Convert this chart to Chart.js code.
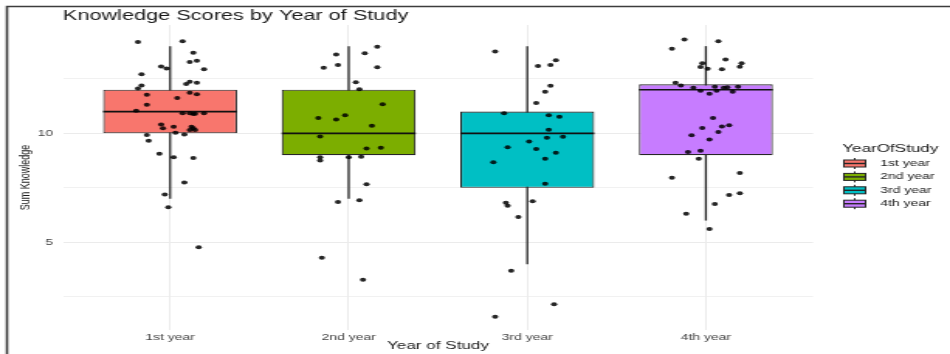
<!DOCTYPE html>
<html>
<head>
<meta charset="utf-8">
<script src="https://cdn.jsdelivr.net/npm/chart.js@4/dist/chart.umd.min.js"></script>
<style>
  html, body { margin: 0; padding: 0; background: #ffffff; overflow: hidden; }
  #wrap { width: 950px; height: 354px; overflow: hidden; }
  /* the figure is drawn on a narrow canvas and widened to the page width */
  #c { display: block; transform: scaleX(1.5498); transform-origin: 0 0; }
</style>
</head>
<body>
<div id="wrap"><canvas id="c" width="613" height="354"></canvas></div>
<script>
// ---- data ----
const categories = ['1st year', '2nd year', '3rd year', '4th year'];
const q1 = [10, 9, 7.5, 9];
const medians = [11, 10, 10, 12];
const q3 = [12, 12, 11, 12.25];
const whiskerLow = [7, 7, 4, 6];
const whiskerHigh = [14, 14, 14, 14];
const yTicks = [2.5, 5, 7.5, 10, 12.5];

// jittered observations: [horizontal jitter, score]
const jitterFirst = [
  [-0.18,14.19],[0.07,14.23],[0.13,13.70],[0.11,13.27],[0.15,13.33],[-0.05,13.07],[-0.02,12.98],
  [0.19,12.94],[-0.16,12.71],[-0.16,12.20],[-0.18,12.06],[0.09,12.26],[0.11,12.37],[0.15,12.32],
  [-0.13,11.77],[0.11,11.86],[0.15,11.79],[0.04,11.62],[-0.13,11.31],[-0.19,11.04],[0.07,10.92],
  [0.11,10.92],[0.13,10.89],[0.14,10.90],[0.19,10.92],[-0.05,10.41],[-0.04,10.23],[0.02,10.30],
  [0.12,10.30],[0.13,10.23],[0.11,10.15],[0.14,10.15],[0.03,10.03],[0.08,9.95],[-0.13,9.92],
  [-0.12,9.66],[-0.06,9.06],[0.02,8.90],[0.13,8.87],[0.08,7.75],[-0.03,7.20],[-0.01,6.61],[0.16,4.77]
];
const jitterSecond = [
  [0.16,13.97],[0.09,13.67],[-0.07,13.62],[-0.14,13.01],[-0.06,13.13],[0.16,13.03],[0.04,12.34],
  [0.06,12.02],[0.19,11.33],[-0.17,10.70],[-0.07,10.64],[-0.02,10.83],[0.13,10.35],[-0.16,9.86],
  [0.10,9.31],[0.18,9.34],[-0.16,8.90],[-0.16,8.76],[0.00,8.90],[0.07,8.93],[0.10,7.66],
  [-0.06,6.85],[0.06,6.93],[-0.15,4.29],[0.08,3.28]
];
const jitterThird = [
  [-0.18,13.76],[0.06,13.09],[0.13,13.13],[0.16,13.35],[0.13,12.18],[0.10,11.91],[0.05,11.39],
  [-0.13,10.92],[0.12,10.83],[0.18,10.76],[0.12,10.17],[0.11,9.80],[0.20,9.84],[0.01,9.63],
  [-0.11,9.36],[0.05,9.28],[0.16,9.11],[0.10,8.83],[-0.19,8.67],[0.10,7.69],[-0.12,6.82],
  [-0.11,6.68],[0.03,6.88],[-0.05,6.16],[-0.09,3.70],[0.15,2.16],[-0.18,1.59]
];
const jitterFourth = [
  [-0.12,14.31],[0.07,14.23],[-0.19,13.88],[0.11,13.39],[0.20,13.22],[0.19,13.06],[-0.02,13.21],
  [-0.03,13.04],[0.01,12.96],[0.09,12.94],[-0.17,12.32],[-0.14,12.20],[-0.07,12.09],[-0.03,11.95],
  [0.02,11.82],[0.05,12.14],[0.06,11.95],[0.10,12.09],[0.12,12.11],[0.15,11.91],[0.18,12.14],
  [0.04,10.70],[0.09,10.32],[0.13,10.37],[-0.02,10.24],[-0.08,9.91],[0.07,10.06],[0.02,9.72],
  [-0.10,9.14],[-0.03,9.20],[-0.04,8.83],[0.19,8.18],[-0.19,7.96],[0.13,7.17],[0.19,7.25],
  [0.05,6.76],[-0.11,6.31],[0.02,5.61]
];

// ---- styling ----
const FONT = '"Liberation Sans", Arial, Helvetica, sans-serif';
const boxColors = ['#F8766D', '#7CAE00', '#00BFC4', '#C77CFF'];
const INK = '#1a1a1a';
const LINE = '#262626';

Chart.defaults.font.family = FONT;

const groups = [jitterFirst, jitterSecond, jitterThird, jitterFourth];
const pointData = [];
groups.forEach((g, i) => g.forEach(([dx, v]) => pointData.push({ x: i + 1 + dx, y: v })));

// whiskers under the boxes, medians on top of each box, then title, legend and frame
const boxParts = {
  id: 'boxParts',
  beforeDatasetsDraw(chart) {
    const { ctx, scales: { x, y } } = chart;
    ctx.save();
    ctx.strokeStyle = LINE;
    ctx.lineWidth = 1.3;
    categories.forEach((c, i) => {
      const px = x.getPixelForValue(i + 1);
      ctx.beginPath();
      ctx.moveTo(px, y.getPixelForValue(whiskerLow[i]));
      ctx.lineTo(px, y.getPixelForValue(whiskerHigh[i]));
      ctx.stroke();
    });
    ctx.restore();
  },
  afterDatasetDraw(chart, args) {
    const ds = chart.data.datasets[args.index];
    if (ds.type !== 'bar') return;
    const i = ds.boxIndex;
    const bar = args.meta.data[0];
    if (!bar) return;
    const { ctx, scales: { y } } = chart;
    const half = bar.width / 2;
    const py = y.getPixelForValue(medians[i]);
    ctx.save();
    ctx.strokeStyle = '#111111';
    ctx.lineWidth = 1.7;
    ctx.beginPath();
    ctx.moveTo(bar.x - half, py);
    ctx.lineTo(bar.x + half, py);
    ctx.stroke();
    ctx.restore();
  },
  afterDraw(chart) {
    const { ctx } = chart;
    ctx.save();
    // title
    ctx.fillStyle = INK;
    ctx.font = '14px ' + FONT;
    ctx.textAlign = 'left';
    ctx.textBaseline = 'alphabetic';
    ctx.fillText('Knowledge Scores by Year of Study', chart.chartArea.left, 19.5);

    // legend
    const lx = 543.5;
    ctx.font = '11px ' + FONT;
    ctx.textBaseline = 'middle';
    ctx.fillText('YearOfStudy', lx, 149);
    categories.forEach((c, i) => {
      const cy = 163.5 + i * 13.4;
      const kx = 544.5, kw = 14, kh = 7;
      ctx.strokeStyle = LINE;
      ctx.lineWidth = 1;
      ctx.beginPath();
      ctx.moveTo(kx + kw / 2, cy - 5.5);
      ctx.lineTo(kx + kw / 2, cy + 5.5);
      ctx.stroke();
      ctx.fillStyle = boxColors[i];
      ctx.fillRect(kx, cy - kh / 2, kw, kh);
      ctx.strokeRect(kx, cy - kh / 2, kw, kh);
      ctx.lineWidth = 1.4;
      ctx.beginPath();
      ctx.moveTo(kx, cy);
      ctx.lineTo(kx + kw, cy);
      ctx.stroke();
      ctx.fillStyle = INK;
      ctx.font = '9px ' + FONT;
      ctx.fillText(c, 568, cy);
    });

    // frame lines along the top and left edge
    ctx.strokeStyle = '#3c3c3c';
    ctx.lineWidth = 1.6;
    ctx.beginPath();
    ctx.moveTo(4.5, 354);
    ctx.lineTo(4.5, 6.5);
    ctx.lineTo(613, 6.5);
    ctx.stroke();
    ctx.restore();
  }
};

const boxDatasets = categories.map((c, i) => ({
  type: 'bar',
  label: c,
  boxIndex: i,
  data: [{ x: i + 1, y: [q1[i], q3[i]] }],
  backgroundColor: boxColors[i],
  borderColor: LINE,
  borderWidth: 1.1,
  borderSkipped: false,
  grouped: false,
  barPercentage: 0.75,
  categoryPercentage: 1,
  order: 1
}));

new Chart(document.getElementById('c'), {
  type: 'scatter',
  data: {
    datasets: [
      {
        type: 'scatter',
        label: 'observations',
        data: pointData,
        pointRadius: 2,
        pointHoverRadius: 2,
        pointBackgroundColor: 'rgba(0,0,0,0.85)',
        pointBorderWidth: 0,
        order: 0
      },
      ...boxDatasets
    ]
  },
  options: {
    responsive: false,
    animation: false,
    devicePixelRatio: 1,
    layout: { padding: { left: 0, right: 88.4, top: 25, bottom: 0 } },
    plugins: {
      legend: { display: false },
      tooltip: { enabled: false },
      title: { display: false }
    },
    scales: {
      x: {
        type: 'linear',
        min: 0.4,
        max: 4.6,
        offset: false,
        afterBuildTicks: s => { s.ticks = categories.map((c, i) => ({ value: i + 1 })); },
        afterFit: s => { s.height = 24; },
        ticks: {
          callback: v => categories[Math.round(v) - 1] || '',
          font: { size: 9 },
          color: '#444444',
          padding: 2,
          maxRotation: 0,
          autoSkip: false
        },
        grid: { color: '#ebebeb', lineWidth: 1, drawTicks: false, offset: false },
        border: { display: false },
        title: {
          display: true,
          text: 'Year of Study',
          font: { size: 11 },
          color: INK,
          padding: { top: 0, bottom: 1.4 }
        }
      },
      y: {
        type: 'linear',
        min: 0.98,
        max: 14.97,
        afterBuildTicks: s => { s.ticks = yTicks.map(v => ({ value: v })); },
        afterFit: s => { s.width = 40.6; },
        ticks: {
          callback: v => (v % 5 === 0 ? String(v) : ''),
          font: { size: 9 },
          color: '#444444',
          padding: 6.4
        },
        grid: {
          color: '#ebebeb',
          lineWidth: c => (c.tick && c.tick.value % 5 === 0 ? 1 : 0.7),
          drawTicks: false
        },
        border: { display: false },
        title: {
          display: true,
          text: 'Sum Knowledge',
          font: { size: 9 },
          color: INK,
          padding: { top: 10.7, bottom: 0 }
        }
      }
    }
  },
  plugins: [boxParts]
});
</script>
</body>
</html>
